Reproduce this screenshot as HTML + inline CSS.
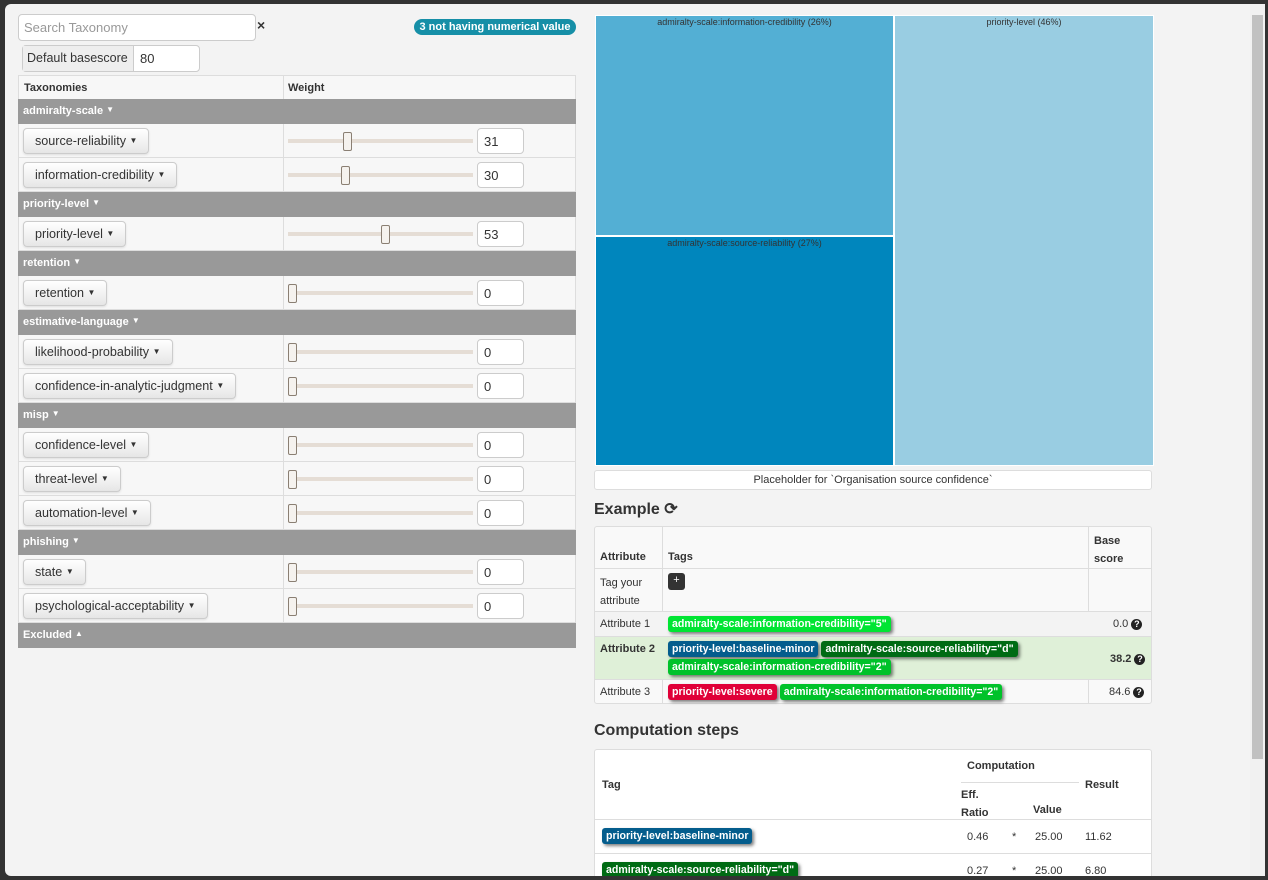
<!DOCTYPE html><html><head><style>
*{box-sizing:border-box}
html,body{margin:0;width:1268px;height:880px;overflow:hidden}
body{background:#333;font-family:"Liberation Sans",sans-serif;font-size:12px;color:#333;position:relative}
.a{position:absolute}
.modal{position:absolute;left:5px;top:4px;width:1260px;height:872px;background:#f3f3f3;border-radius:6px}
.g{position:absolute;left:18px;width:558px;height:25px;background:#999;color:#fff;font-weight:bold;font-size:11px;padding:6px 5px}
.r{position:absolute;left:18px;width:558px;height:34px;background:#f7f7f7;border:1px solid #ddd;border-top:none}
.r .d{position:absolute;left:264px;top:0;bottom:0;border-left:1px solid #ddd}
.btn{position:absolute;left:4px;top:4px;height:26px;background:linear-gradient(#fff,#e6e6e6);border:1px solid #ccc;border-radius:4px;font-size:12.6px;padding:5px 11px;color:#333;box-shadow:0 1px 2px rgba(0,0,0,.1);white-space:nowrap}
.c{font-size:8px;vertical-align:2px}
.tr{position:absolute;left:269px;top:15px;width:185px;height:4px;background:#e5ddd5}
.th{position:absolute;top:8px;width:9px;height:19px;background:#f5f2ee;border:1px solid #8a7f73;border-radius:2px}
.in{position:absolute;left:458px;top:4px;width:47px;height:26px;background:#fff;border:1px solid #ccc;border-radius:4px;font-size:13px;padding:5px 6px}
.tag{display:inline-block;color:#fff;font-size:10.6px;font-weight:bold;padding:1px 4px;line-height:14px;border-radius:3px;box-shadow:2px 2px 3px rgba(0,0,0,.5);margin-right:3px;white-space:nowrap}
.q{display:inline-block;width:11px;height:11px;border-radius:50%;background:#222;color:#fff;font-size:9px;text-align:center;line-height:11px;font-weight:bold}
</style></head><body>
<div class="modal"></div>
<div class="a" style="left:18px;top:14px;width:238px;height:27px;background:#fff;border:1px solid #ccc;border-radius:4px;font-size:13px;color:#999;padding:5px 5px">Search Taxonomy</div>
<div class="a" style="left:257px;top:17px;font-size:14px;font-weight:bold">×</div>
<div class="a" style="left:414px;top:19px;width:162px;height:16px;background:#168fa7;color:#fff;border-radius:9px;font-size:11px;font-weight:bold;text-align:center;line-height:16px">3 not having numerical value</div>
<div class="a" style="left:22px;top:45px;width:178px;height:27px;border:1px solid #ccc;border-radius:4px;background:#fff"><div style="position:absolute;left:0;top:0;width:111px;height:25px;background:#eee;border-right:1px solid #ccc;font-size:12.5px;padding:5px 4px;white-space:nowrap">Default basescore</div><div style="position:absolute;left:117px;top:5px;font-size:13px">80</div></div>
<div class="a" style="left:18px;top:75px;width:558px;height:25px;background:#f7f7f7;border:1px solid #ddd;font-weight:bold;font-size:11px"><span class="a" style="left:5px;top:6px">Taxonomies</span><span class="a" style="left:264px;top:0;bottom:0;border-left:1px solid #ddd"></span><span class="a" style="left:269px;top:6px">Weight</span></div>

<div class="g" style="top:99px">admiralty-scale <span class="c">▼</span></div>
<div class="r" style="top:124px"><div class="d"></div><div class="btn">source-reliability <span class="c">▼</span></div><div class="tr"></div><div class="th" style="left:324px"></div><div class="in">31</div></div>
<div class="r" style="top:158px"><div class="d"></div><div class="btn">information-credibility <span class="c">▼</span></div><div class="tr"></div><div class="th" style="left:322px"></div><div class="in">30</div></div>
<div class="g" style="top:192px">priority-level <span class="c">▼</span></div>
<div class="r" style="top:217px"><div class="d"></div><div class="btn">priority-level <span class="c">▼</span></div><div class="tr"></div><div class="th" style="left:362px"></div><div class="in">53</div></div>
<div class="g" style="top:251px">retention <span class="c">▼</span></div>
<div class="r" style="top:276px"><div class="d"></div><div class="btn">retention <span class="c">▼</span></div><div class="tr"></div><div class="th" style="left:269px"></div><div class="in">0</div></div>
<div class="g" style="top:310px">estimative-language <span class="c">▼</span></div>
<div class="r" style="top:335px"><div class="d"></div><div class="btn">likelihood-probability <span class="c">▼</span></div><div class="tr"></div><div class="th" style="left:269px"></div><div class="in">0</div></div>
<div class="r" style="top:369px"><div class="d"></div><div class="btn">confidence-in-analytic-judgment <span class="c">▼</span></div><div class="tr"></div><div class="th" style="left:269px"></div><div class="in">0</div></div>
<div class="g" style="top:403px">misp <span class="c">▼</span></div>
<div class="r" style="top:428px"><div class="d"></div><div class="btn">confidence-level <span class="c">▼</span></div><div class="tr"></div><div class="th" style="left:269px"></div><div class="in">0</div></div>
<div class="r" style="top:462px"><div class="d"></div><div class="btn">threat-level <span class="c">▼</span></div><div class="tr"></div><div class="th" style="left:269px"></div><div class="in">0</div></div>
<div class="r" style="top:496px"><div class="d"></div><div class="btn">automation-level <span class="c">▼</span></div><div class="tr"></div><div class="th" style="left:269px"></div><div class="in">0</div></div>
<div class="g" style="top:530px">phishing <span class="c">▼</span></div>
<div class="r" style="top:555px"><div class="d"></div><div class="btn">state <span class="c">▼</span></div><div class="tr"></div><div class="th" style="left:269px"></div><div class="in">0</div></div>
<div class="r" style="top:589px"><div class="d"></div><div class="btn">psychological-acceptability <span class="c">▼</span></div><div class="tr"></div><div class="th" style="left:269px"></div><div class="in">0</div></div>
<div class="g" style="top:623px">Excluded <span class="c">▲</span></div>

<div class="a" style="left:595px;top:15px;width:299px;height:221px;background:#53afd4;border:1px solid #fff;font-size:9px;text-align:center;padding-top:1px">admiralty-scale:information-credibility (26%)</div>
<div class="a" style="left:595px;top:236px;width:299px;height:230px;background:#0086bd;border:1px solid #fff;font-size:9px;text-align:center;padding-top:1px">admiralty-scale:source-reliability (27%)</div>
<div class="a" style="left:894px;top:15px;width:260px;height:451px;background:#99cde2;border:1px solid #fff;font-size:9px;text-align:center;padding-top:1px">priority-level (46%)</div>
<div class="a" style="left:594px;top:470px;width:558px;height:20px;background:#fff;border:1px solid #ddd;border-radius:3px;font-size:11px;text-align:center;line-height:18px">Placeholder for `Organisation source confidence`</div>

<div class="a" style="left:594px;top:499px;font-size:16px;font-weight:bold">Example ⟳</div>
<div class="a" style="left:594px;top:526px;width:558px;height:178px;border:1px solid #ddd;border-radius:3px;background:#f9f9f9;font-size:11px">
 <div class="a" style="left:0;top:0;width:556px;height:42px;border-bottom:1px solid #ddd;font-weight:bold"><span class="a" style="left:5px;top:24px">Attribute</span><span class="a" style="left:73px;top:24px">Tags</span><span class="a" style="left:499px;top:5px;line-height:18px">Base<br>score</span></div>
 <div class="a" style="left:67px;top:0;height:176px;border-left:1px solid #ddd"></div>
 <div class="a" style="left:493px;top:0;height:176px;border-left:1px solid #ddd"></div>
 <div class="a" style="left:0;top:42px;width:556px;height:43px;border-bottom:1px solid #ddd"><span class="a" style="left:5px;top:5px;line-height:18px">Tag your<br>attribute</span><span class="a" style="left:73px;top:4px;width:17px;height:17px;background:#333;color:#fff;border-radius:3px;text-align:center;line-height:15px">+</span></div>
 <div class="a" style="left:0;top:85px;width:556px;height:25px;border-bottom:1px solid #ddd;background:#f3f3f3"><span class="a" style="left:5px;top:6px">Attribute 1</span><span class="a" style="left:73px;top:4px"><span class="tag" style="background:#00e533">admiralty-scale:information-credibility="5"</span></span><span class="a" style="left:518px;top:6px">0.0 <span class="q">?</span></span></div>
 <div class="a" style="left:0;top:110px;width:556px;height:43px;border-bottom:1px solid #ddd;background:#dff0d8"><span class="a" style="left:5px;top:6px;font-weight:bold">Attribute 2</span><span class="a" style="left:73px;top:3px;width:400px;line-height:18px"><span class="tag" style="background:#045d8d">priority-level:baseline-minor</span><span class="tag" style="background:#006b14">admiralty-scale:source-reliability="d"</span><span class="tag" style="background:#00c22a">admiralty-scale:information-credibility="2"</span></span><span class="a" style="left:515px;top:16px;font-weight:bold">38.2 <span class="q">?</span></span></div>
 <div class="a" style="left:0;top:153px;width:556px;height:23px"><span class="a" style="left:5px;top:6px">Attribute 3</span><span class="a" style="left:73px;top:4px"><span class="tag" style="background:#e00038">priority-level:severe</span><span class="tag" style="background:#00c22a">admiralty-scale:information-credibility="2"</span></span><span class="a" style="left:514px;top:6px">84.6 <span class="q">?</span></span></div>
</div>

<div class="a" style="left:594px;top:722px;font-size:16px;font-weight:bold">Computation steps</div>
<div class="a" style="left:594px;top:749px;width:558px;height:127px;border:1px solid #ddd;border-bottom:none;border-radius:3px 3px 0 0;background:#fff;font-size:11px;overflow:hidden">
 <div class="a" style="left:0;top:0;width:556px;height:70px;border-bottom:1px solid #ddd;font-weight:bold"><span class="a" style="left:7px;top:29px">Tag</span><span class="a" style="left:372px;top:10px">Computation</span><span class="a" style="left:366px;top:32px;width:118px;border-top:1px solid #ddd"></span><span class="a" style="left:366px;top:36px;line-height:18px">Eff.<br>Ratio</span><span class="a" style="left:438px;top:54px">Value</span><span class="a" style="left:490px;top:29px">Result</span></div>
 <div class="a" style="left:0;top:70px;width:556px;height:34px;border-bottom:1px solid #ddd"><span class="a" style="left:7px;top:8px"><span class="tag" style="background:#045d8d">priority-level:baseline-minor</span></span><span class="a" style="left:372px;top:11px">0.46</span><span class="a" style="left:417px;top:11px">*</span><span class="a" style="left:440px;top:11px">25.00</span><span class="a" style="left:490px;top:11px">11.62</span></div>
 <div class="a" style="left:0;top:104px;width:556px;height:34px"><span class="a" style="left:7px;top:8px"><span class="tag" style="background:#006b14">admiralty-scale:source-reliability="d"</span></span><span class="a" style="left:372px;top:11px">0.27</span><span class="a" style="left:417px;top:11px">*</span><span class="a" style="left:440px;top:11px">25.00</span><span class="a" style="left:490px;top:11px">6.80</span></div>
</div>
<div class="a" style="left:0;top:876px;width:1268px;height:4px;background:#333"></div>
<div class="a" style="left:1250px;top:4px;width:15px;height:872px;background:#f1f1f1"></div>
<div class="a" style="left:1252px;top:15px;width:11px;height:744px;background:#c1c1c1"></div>
<div class="a" style="left:1265px;top:0;width:3px;height:880px;background:#333"></div>
</body></html>
